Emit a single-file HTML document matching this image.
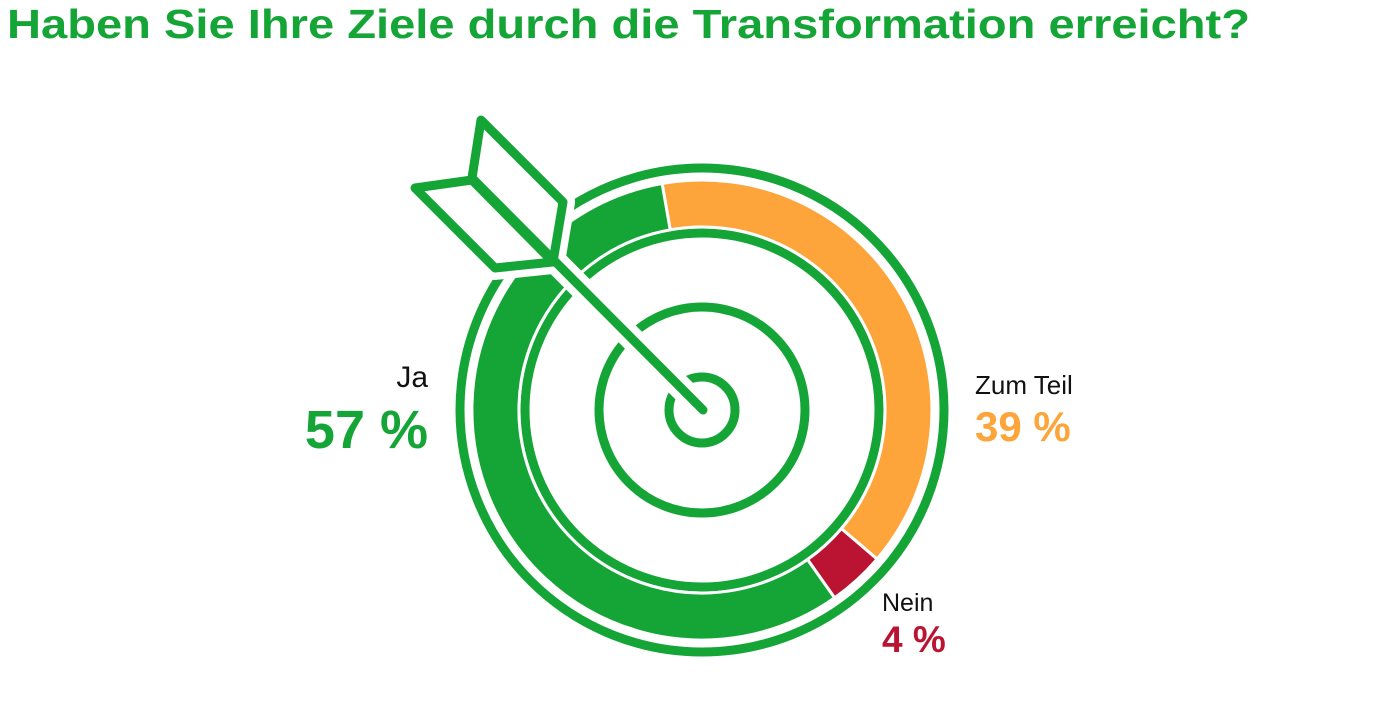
<!DOCTYPE html>
<html><head><meta charset="utf-8"><style>
body{margin:0;background:#fff;width:1390px;height:721px;overflow:hidden;font-family:"Liberation Sans",sans-serif}
</style></head><body>
<svg width="1390" height="721" xmlns="http://www.w3.org/2000/svg" style="position:absolute;left:0;top:0">
<text x="7" y="38" font-size="41" font-weight="bold" fill="#15a537" font-family="Liberation Sans, sans-serif" textLength="1243" lengthAdjust="spacingAndGlyphs">Haben Sie Ihre Ziele durch die Transformation erreicht?</text>
<g fill="none" stroke="#15a537" stroke-width="9">
<circle cx="702" cy="410" r="242"/>
<circle cx="702" cy="410" r="177"/>
<circle cx="702" cy="410" r="103"/>
<circle cx="702" cy="410" r="33"/>
</g>
<g stroke="#fff" stroke-width="3">
<path fill="#fda53a" d="M662.1,183.5 A230 230 0 0 1 877.1,559.1 L841.4,528.6 A183 183 0 0 0 670.2,229.8 Z"/>
<path fill="#bb1332" d="M877.1,559.1 A230 230 0 0 1 834.6,597.9 L807.5,559.5 A183 183 0 0 0 841.4,528.6 Z"/>
<path fill="#15a537" d="M834.6,597.9 A230 230 0 1 1 662.1,183.5 L670.2,229.8 A183 183 0 1 0 807.5,559.5 Z"/>
</g>
<g fill="#fff" stroke="#fff" stroke-width="24" stroke-linejoin="round" stroke-linecap="round">
<line x1="703" y1="410" x2="472" y2="178"/>
<polygon points="481,120 472,178 553,262 563,202"/>
<polygon points="415,188 472,180 553,262 495,268"/>
</g>
<g fill="#fff" stroke="#15a537" stroke-width="9" stroke-linejoin="round" stroke-linecap="round">
<polygon points="481,120 472,178 553,262 563,202"/>
<polygon points="415,188 472,180 553,262 495,268"/>
<line x1="703" y1="410" x2="472" y2="178"/>
</g>
<g font-family="Liberation Sans, sans-serif">
<text x="428" y="387" font-size="30" text-anchor="end" fill="#111">Ja</text>
<text x="428" y="448" font-size="54" font-weight="bold" text-anchor="end" fill="#15a537">57 %</text>
<text x="975" y="394" font-size="26" fill="#111">Zum Teil</text>
<text x="975" y="441" font-size="42" font-weight="bold" fill="#fda53a">39 %</text>
<text x="882" y="611" font-size="25" fill="#111">Nein</text>
<text x="882" y="652" font-size="37" font-weight="bold" fill="#bb1332">4 %</text>
</g>
</svg>
</body></html>
